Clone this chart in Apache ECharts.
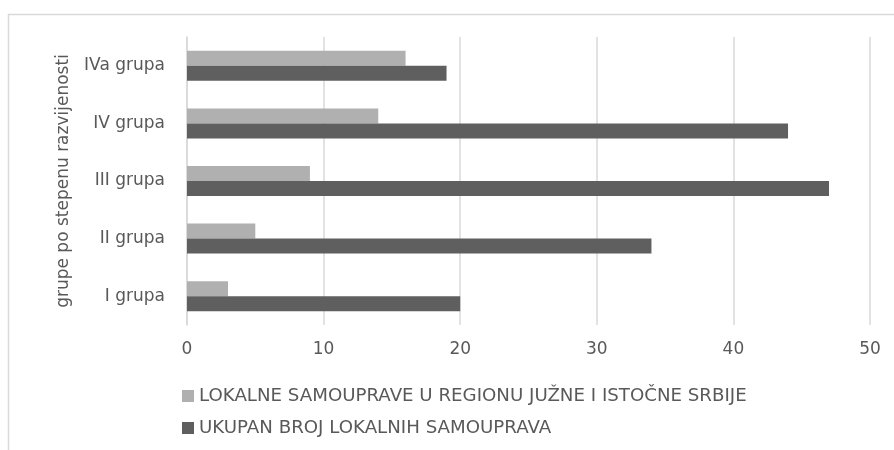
<!DOCTYPE html>
<html>
<head>
<meta charset="utf-8">
<script src="https://cdn.jsdelivr.net/npm/echarts@6/dist/echarts.min.js"></script>
<style>
  html, body { margin: 0; padding: 0; background: #fff; }
  #chart { width: 894px; height: 450px; }
</style>
</head>
<body>
<div id="chart"></div>
<script>
const categories = ['I grupa', 'II grupa', 'III grupa', 'IV grupa', 'IVa grupa'];
const regionName = 'LOKALNE SAMOUPRAVE U REGIONU JUŽNE I ISTOČNE SRBIJE';
const totalName = 'UKUPAN BROJ LOKALNIH SAMOUPRAVA';
const regionValues = [3, 5, 9, 14, 16];
const totalValues = [20, 34, 47, 44, 19];

const font = 'DejaVu Sans';
const textColor = '#595959';

const chart = echarts.init(document.getElementById('chart'));
chart.setOption({
  animation: false,
  textStyle: { fontFamily: font },
  graphic: [{
    type: 'rect',
    shape: { x: 8.5, y: 14.5, width: 900, height: 450 },
    style: { fill: 'none', stroke: '#d9d9d9', lineWidth: 1.5 },
    silent: true
  }],
  grid: { left: 187, right: 24, top: 37, bottom: 125 },
  legend: {
    orient: 'vertical',
    left: 177,
    top: 382,
    itemWidth: 12,
    itemHeight: 12,
    itemGap: 14,
    icon: 'rect',
    data: [regionName, totalName],
    textStyle: { fontFamily: font, fontSize: 18.2, color: textColor }
  },
  xAxis: {
    type: 'value',
    min: 0,
    max: 50,
    interval: 10,
    axisLine: { show: false },
    axisTick: { show: false },
    axisLabel: { margin: 16, fontFamily: font, fontSize: 17, color: textColor },
    splitLine: { lineStyle: { color: '#d9d9d9', width: 1.5 } }
  },
  yAxis: {
    type: 'category',
    data: categories,
    name: 'grupe po stepenu razvijenosti',
    nameLocation: 'middle',
    nameRotate: 90,
    nameGap: 115,
    nameTextStyle: { fontFamily: font, fontSize: 17, color: textColor },
    axisLine: { show: true, lineStyle: { color: '#d9d9d9', width: 1.5 } },
    axisTick: { show: false },
    axisLabel: { margin: 22, fontFamily: font, fontSize: 17, color: textColor }
  },
  series: [
    {
      name: regionName,
      type: 'bar',
      data: regionValues,
      barWidth: 15,
      barGap: '0%',
      itemStyle: { color: '#b0b0b0' }
    },
    {
      name: totalName,
      type: 'bar',
      data: totalValues,
      barWidth: 15,
      barGap: '0%',
      itemStyle: { color: '#5f5f5f' }
    }
  ]
});
</script>
</body>
</html>
